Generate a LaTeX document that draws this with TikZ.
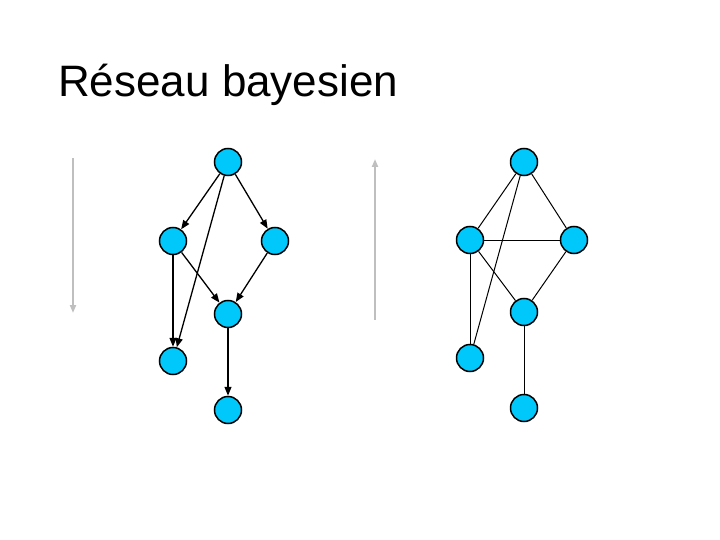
\documentclass[tikz,border=0pt]{standalone}
\usepackage{fontspec}
\setmainfont{Liberation Sans}
\usetikzlibrary{arrows.meta}
\definecolor{nodecyan}{RGB}{0,200,250}
\begin{document}
\begin{tikzpicture}[x=1pt,y=-1pt,
  vnode/.style={circle,draw=black,line width=1.5pt,fill=nodecyan,minimum size=27pt,inner sep=0pt},
  darr/.style={line width=1.3pt,-{Triangle[length=9pt,width=7pt]}},
  uedge/.style={line width=1pt},
  garr/.style={line width=2pt,draw=black!25,-{Triangle[length=8pt,width=6pt]}}]
\useasboundingbox (0,0) rectangle (720,540);
\node[anchor=base west,font=\fontsize{44}{50}\selectfont,inner sep=0pt] (title) at (58,97) {Réseau bayesien};
% left graph
\node[vnode] (a) at (228,162) {};
\node[vnode] (b) at (173,241) {};
\node[vnode] (c) at (275,241) {};
\node[vnode] (d) at (228,314) {};
\node[vnode] (e) at (173,361) {};
\node[vnode] (f) at (228,410) {};
\draw[darr] (a) -- (b);
\draw[darr] (a) -- (c);
\draw[darr] (a) -- (e);
\draw[darr] (b) -- (e);
\draw[darr] (b) -- (d);
\draw[darr] (c) -- (d);
\draw[darr] (d) -- (f);
% right graph
\node[vnode] (a2) at (524,162) {};
\node[vnode] (b2) at (470,240) {};
\node[vnode] (c2) at (574,240) {};
\node[vnode] (d2) at (524,312) {};
\node[vnode] (e2) at (470,358) {};
\node[vnode] (f2) at (524,408) {};
\draw[uedge] (a2) -- (b2);
\draw[uedge] (a2) -- (c2);
\draw[uedge] (a2) -- (e2);
\draw[uedge] (b2) -- (c2);
\draw[uedge] (b2) -- (d2);
\draw[uedge] (c2) -- (d2);
\draw[uedge] (b2) -- (e2);
\draw[uedge] (d2) -- (f2);
% gray arrows
\coordinate (g1s) at (73,158);
\coordinate (g1e) at (73,313);
\coordinate (g2s) at (375,320);
\coordinate (g2e) at (375,159);
\draw[garr] (g1s) -- (g1e);
\draw[garr] (g2s) -- (g2e);
\end{tikzpicture}
\end{document}
